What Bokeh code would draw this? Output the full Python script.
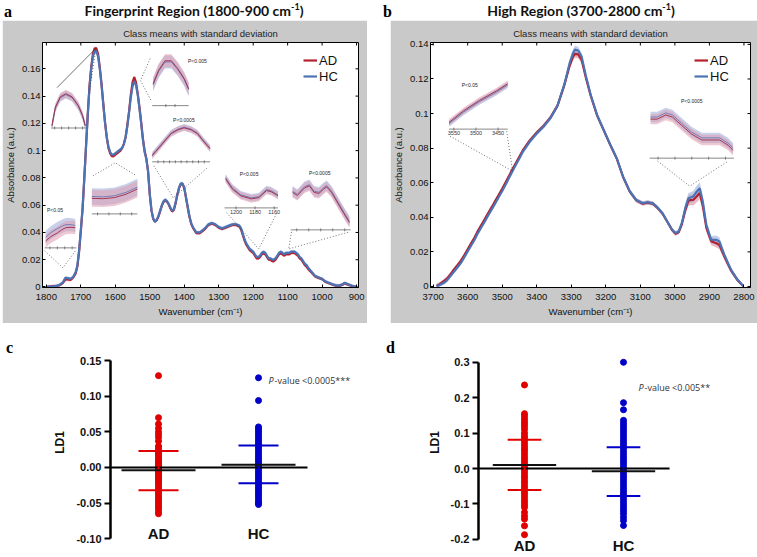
from bokeh.plotting import figure
from bokeh.models import (Range1d, FixedTicker, CustomJSTickFormatter,
                          PrintfTickFormatter, Legend, LegendItem, Div, Spacer)
from bokeh.layouts import row, column
from bokeh.embed import file_html
from bokeh.resources import INLINE
from bokeh.core.properties import value

# ---------------- data: panel a (fingerprint region) ----------------
wn_a = [1800, 1790, 1780, 1770, 1760, 1752, 1745, 1738, 1730, 1722, 1715, 1710, 1705, 1700,
        1695, 1690, 1685, 1680, 1675, 1670, 1665, 1660, 1655, 1650, 1645, 1640, 1635, 1630, 1625, 1620, 1615, 1610, 1605, 1600,
        1595, 1590, 1585, 1580, 1575, 1570, 1565, 1560, 1555, 1550, 1545, 1540, 1535, 1530, 1525, 1520, 1515, 1510, 1505, 1500, 1495, 1490, 1485, 1480,
        1475, 1470, 1465, 1460, 1455, 1450, 1445, 1440, 1435, 1430, 1425, 1420, 1415, 1410, 1405, 1400, 1395, 1390, 1385, 1380, 1375, 1370, 1365, 1360, 1355, 1350,
        1340, 1330, 1320, 1310, 1300, 1290, 1280, 1270, 1260, 1250, 1240,
        1235, 1230, 1225, 1220, 1215, 1210, 1200, 1195, 1190, 1185, 1180, 1175, 1170, 1165, 1160, 1155,
        1150, 1145, 1140, 1135, 1130, 1125, 1120, 1115, 1110, 1105, 1100, 1095, 1090, 1085, 1080, 1075, 1070, 1065, 1060, 1055,
        1050, 1045, 1040,
        1030, 1020, 1010, 1000, 990, 980, 970, 960, 950, 940, 935, 930, 920, 910, 900]
hc_a = [0.0, 0.0003, 0.0005, 0.0008, 0.0018, 0.0035, 0.0068, 0.0065, 0.0060, 0.0075, 0.0110, 0.0160, 0.0270, 0.0420,
        0.058, 0.080, 0.103, 0.126, 0.146, 0.160, 0.169, 0.173, 0.173, 0.169, 0.160, 0.148, 0.134, 0.121, 0.110, 0.103, 0.099, 0.097, 0.097, 0.098,
        0.099, 0.100, 0.101, 0.102, 0.105, 0.110, 0.118, 0.128, 0.139, 0.147, 0.151, 0.148, 0.141, 0.131, 0.120, 0.108, 0.099, 0.094, 0.085, 0.068, 0.056, 0.050, 0.048, 0.049,
        0.052, 0.056, 0.060, 0.063, 0.064, 0.063, 0.061, 0.058, 0.056, 0.057, 0.062, 0.068, 0.073, 0.076, 0.076, 0.073, 0.066, 0.059, 0.052, 0.047, 0.044, 0.042, 0.040, 0.040, 0.040, 0.041,
        0.043, 0.046, 0.047, 0.046, 0.044, 0.043, 0.044, 0.045, 0.046, 0.046, 0.045,
        0.043, 0.039, 0.035, 0.032, 0.030, 0.028, 0.026, 0.024, 0.022, 0.022, 0.023, 0.025, 0.026, 0.025, 0.023, 0.021,
        0.021, 0.020, 0.020, 0.021, 0.023, 0.025, 0.026, 0.025, 0.024, 0.025, 0.025, 0.025, 0.026, 0.026, 0.026, 0.025, 0.024, 0.022, 0.021, 0.019,
        0.017, 0.016, 0.014,
        0.011, 0.008, 0.007, 0.006, 0.004, 0.003, 0.002, 0.0012, 0.001, 0.002, 0.003, 0.0025, 0.0015, 0.0005, 0.0]
ad_a = [0.0, 0.0003, 0.0005, 0.0007, 0.0015, 0.0030, 0.0055, 0.0055, 0.0052, 0.0070, 0.0100, 0.0150, 0.0260, 0.0410,
        0.057, 0.079, 0.103, 0.126, 0.147, 0.161, 0.171, 0.175, 0.175, 0.171, 0.161, 0.149, 0.135, 0.121, 0.110, 0.102, 0.098, 0.096, 0.096, 0.097,
        0.098, 0.099, 0.100, 0.102, 0.105, 0.110, 0.119, 0.129, 0.141, 0.150, 0.154, 0.150, 0.142, 0.132, 0.121, 0.109, 0.100, 0.094, 0.085, 0.068, 0.056, 0.050, 0.048, 0.049,
        0.0515, 0.0555, 0.0595, 0.0625, 0.0635, 0.0625, 0.0605, 0.0575, 0.0555, 0.0565, 0.0615, 0.0675, 0.0725, 0.0755, 0.0755, 0.0725, 0.0655, 0.0585, 0.0515, 0.0465, 0.0435, 0.0415, 0.0395, 0.0395, 0.0395, 0.0405,
        0.0425, 0.0455, 0.0465, 0.0455, 0.0435, 0.0425, 0.0435, 0.0445, 0.0455, 0.0455, 0.0443,
        0.042, 0.038, 0.034, 0.031, 0.029, 0.027, 0.025, 0.023, 0.021, 0.021, 0.022, 0.024, 0.025, 0.024, 0.022, 0.020,
        0.020, 0.019, 0.019, 0.020, 0.022, 0.024, 0.025, 0.024, 0.023, 0.024, 0.024, 0.024, 0.025, 0.025, 0.025, 0.024, 0.023, 0.021, 0.020, 0.018,
        0.016, 0.015, 0.013,
        0.0105, 0.0077, 0.0067, 0.0057, 0.0038, 0.0028, 0.0018, 0.001, 0.0008, 0.0018, 0.0028, 0.0023, 0.0013, 0.0004, 0.0]
sd_ad_a = 0.0012
sd_hc_a = 0.0012
xticks_a = [1800, 1700, 1600, 1500, 1400, 1300, 1200, 1100, 1000, 900]
yticks_a = [0, 0.02, 0.04, 0.06, 0.08, 0.1, 0.12, 0.14, 0.16]

# ---------------- data: panel b (high region) ----------------
wn_b = [3690, 3680, 3670, 3660, 3650, 3640, 3630, 3620, 3610, 3600, 3590, 3580, 3570, 3560, 3550, 3540, 3530, 3520, 3510, 3500,
        3490, 3480, 3470, 3460, 3450, 3440, 3420, 3400, 3380, 3360, 3340, 3320,
        3305, 3295, 3289, 3280, 3270, 3258, 3244, 3225, 3206, 3187, 3168, 3150, 3131, 3112, 3093, 3079, 3064, 3050, 3036, 3022,
        3008, 2998, 2989, 2980, 2970, 2961, 2954, 2947, 2937, 2928, 2919, 2909, 2895, 2880, 2871, 2857, 2838, 2819, 2802]
hc_b = [0.0002, 0.001, 0.002, 0.0035, 0.006, 0.0085, 0.011, 0.0135, 0.0168, 0.0203, 0.0237, 0.027, 0.031, 0.0344, 0.0378, 0.0413, 0.0447, 0.0482, 0.0517, 0.0552,
        0.059, 0.0629, 0.0668, 0.0705, 0.0742, 0.078, 0.0838, 0.0885, 0.0925, 0.0975, 0.1045, 0.1170,
        0.1290, 0.1350, 0.1370, 0.1365, 0.1330, 0.1220, 0.1110, 0.0990, 0.0905, 0.0820, 0.0740, 0.0635, 0.0552, 0.0500, 0.0481, 0.0487, 0.0481, 0.0456, 0.0424, 0.0376,
        0.0328, 0.0309, 0.0318, 0.0366, 0.0453, 0.0510, 0.0515, 0.0520, 0.0548, 0.0568, 0.0490, 0.0357, 0.0270, 0.0270, 0.0260, 0.0184, 0.0098, 0.0040, 0.0002]
ad_b = [0.0003, 0.0015, 0.003, 0.0045, 0.007, 0.0097, 0.0122, 0.0148, 0.018, 0.0215, 0.025, 0.0283, 0.0323, 0.0357, 0.0391, 0.0426, 0.046, 0.0495, 0.053, 0.0565,
        0.0602, 0.064, 0.0679, 0.0715, 0.0752, 0.0788, 0.0845, 0.089, 0.093, 0.0978, 0.1045, 0.1165,
        0.1275, 0.1330, 0.1345, 0.1342, 0.1310, 0.1210, 0.1105, 0.0988, 0.0903, 0.0818, 0.0738, 0.0633, 0.0550, 0.0498, 0.0479, 0.0485, 0.0479, 0.0454, 0.0422, 0.0374,
        0.0326, 0.0305, 0.0313, 0.0358, 0.0440, 0.0495, 0.0500, 0.0500, 0.0520, 0.0540, 0.0465, 0.0340, 0.0262, 0.0250, 0.0240, 0.0175, 0.0095, 0.0038, 0.0002]
sd_b = [0.0012, 0.0012, 0.0012, 0.0012, 0.0012, 0.0012, 0.0012, 0.0012, 0.0012, 0.0012, 0.0012, 0.0012, 0.0012, 0.0012, 0.0012, 0.0012, 0.0012, 0.0012, 0.0012, 0.0012,
        0.0012, 0.0012, 0.0012, 0.0012, 0.0012, 0.0012, 0.0012, 0.0012, 0.0013, 0.0014, 0.0016, 0.0018,
        0.0020, 0.0022, 0.0022, 0.0022, 0.0020, 0.0018, 0.0015, 0.0013, 0.0012, 0.0012, 0.0012, 0.0012, 0.0012, 0.0012, 0.0012, 0.0012, 0.0012, 0.0012, 0.0012, 0.0012,
        0.0012, 0.0012, 0.0013, 0.0016, 0.0025, 0.0030, 0.0030, 0.0032, 0.0035, 0.0035, 0.0030, 0.0025, 0.0022, 0.0025, 0.0025, 0.0020, 0.0015, 0.0012, 0.0008]
xticks_b = [3700, 3600, 3500, 3400, 3300, 3200, 3100, 3000, 2900, 2800]
yticks_b = [0, 0.02, 0.04, 0.06, 0.08, 0.1, 0.12, 0.14]

# ---------------- inset data (zoomed views) ----------------
ins_a1_wn = [1679, 1674, 1667, 1659, 1650, 1641, 1635, 1631]
ins_a1_ad = [0.1518, 0.1659, 0.1737, 0.1761, 0.1737, 0.1671, 0.1596, 0.1518]
ins_a1_hc = [0.1512, 0.1652, 0.1730, 0.1754, 0.1731, 0.1666, 0.1591, 0.1514]
ins_a2_wn = [1564, 1558, 1551, 1544, 1537, 1530, 1525]
ins_a2_ad = [0.1418, 0.1490, 0.1541, 0.1541, 0.1499, 0.1446, 0.1390]
ins_a2_hc = [0.1412, 0.1484, 0.1534, 0.1535, 0.1494, 0.1441, 0.1386]
ins_a3_wn = [1480, 1468, 1458, 1447, 1435, 1425, 1413, 1402, 1392, 1380]
ins_a3_ad = [0.0548, 0.0611, 0.0665, 0.0722, 0.0752, 0.0767, 0.0752, 0.0722, 0.0665, 0.0602]
ins_a3_hc = [0.0553, 0.0616, 0.0670, 0.0727, 0.0757, 0.0772, 0.0757, 0.0727, 0.0670, 0.0607]
ins_a4_wn = [1620, 1610, 1600, 1590, 1580]
ins_a4_ad = [0.0984, 0.0982, 0.0988, 0.1006, 0.1034]
ins_a4_hc = [0.0994, 0.0992, 0.0998, 0.1016, 0.1044]
ins_a5_wn = [1759, 1754, 1748, 1744, 1740, 1735, 1731]
ins_a5_ad = [0.0036, 0.0046, 0.0054, 0.0061, 0.0066, 0.0067, 0.0066]
ins_a5_hc = [0.0044, 0.0055, 0.0064, 0.0069, 0.0073, 0.0073, 0.0071]
ins_a6_wn = [1211, 1204, 1195, 1184, 1176, 1168, 1163, 1156]
ins_a6_ad = [0.0296, 0.0256, 0.0228, 0.0216, 0.0221, 0.0249, 0.0244, 0.0228]
ins_a6_hc = [0.0300, 0.0260, 0.0232, 0.0220, 0.0225, 0.0253, 0.0248, 0.0232]
ins_a7_wn = [1127, 1119, 1107, 1099, 1091, 1083, 1075, 1070, 1062, 1051, 1041, 1032]
ins_a7_ad = [0.0283, 0.0268, 0.0305, 0.0315, 0.0283, 0.0278, 0.0300, 0.0310, 0.0283, 0.0228, 0.0178, 0.0135]
ins_a7_hc = [0.0289, 0.0274, 0.0311, 0.0321, 0.0289, 0.0284, 0.0306, 0.0316, 0.0289, 0.0234, 0.0184, 0.0141]
ins_b1_wn = [3561, 3528, 3492, 3454, 3428]
ins_b1_ad = [0.0384, 0.0496, 0.0596, 0.0686, 0.0756]
ins_b1_hc = [0.0372, 0.0484, 0.0584, 0.0674, 0.0744]
ins_b2_wn = [2999, 2991, 2981, 2973, 2962, 2950, 2938, 2927, 2917, 2907, 2901]
ins_b2_ad = [0.0550, 0.0550, 0.0566, 0.0558, 0.0526, 0.0492, 0.0470, 0.0470, 0.0470, 0.0450, 0.0430]
ins_b2_hc = [0.0558, 0.0558, 0.0574, 0.0566, 0.0534, 0.0500, 0.0478, 0.0478, 0.0478, 0.0458, 0.0438]

# ---------------- data: panels c, d (LD1 scores) ----------------
cats = ["AD", "HC"]
ld1_c_ad = [0.129, 0.070, 0.061, 0.055, 0.050, 0.046, 0.042, 0.037, 0.030, 0.028, 0.025, 0.022, 0.019, 0.016,
            0.013, 0.010, 0.008, 0.006, 0.004, 0.002, 0.0, -0.002, -0.004, -0.006, -0.008, -0.010, -0.012,
            -0.014, -0.016, -0.018, -0.020, -0.023, -0.026, -0.029, -0.032, -0.035, -0.038, -0.041, -0.044,
            -0.047, -0.050, -0.053, -0.056, -0.058, -0.062, -0.065]
ld1_c_hc = [0.126, 0.094, 0.057, 0.054, 0.051, 0.048, 0.045, 0.042, 0.039, 0.036, 0.033, 0.030, 0.027, 0.024,
            0.021, 0.018, 0.015, 0.012, 0.009, 0.006, 0.003, 0.0, -0.003, -0.006, -0.009, -0.012, -0.015,
            -0.018, -0.021, -0.024, -0.027, -0.030, -0.033, -0.036, -0.039, -0.042, -0.045, -0.048, -0.050, -0.052]
mean_c = [-0.004, 0.004]
sd_hi_c = [0.023, 0.031]
sd_lo_c = [-0.032, -0.022]
ticks_c = [-0.10, -0.05, 0.0, 0.05, 0.10, 0.15]

ld1_d_ad = [0.236, 0.155, 0.148, 0.140, 0.132, 0.125, 0.118, 0.110, 0.100, 0.092, 0.085, 0.078, 0.070, 0.062,
            0.055, 0.048, 0.040, 0.032, 0.025, 0.018, 0.010, 0.003, -0.005, -0.012, -0.020, -0.027, -0.035,
            -0.042, -0.050, -0.057, -0.065, -0.072, -0.080, -0.088, -0.095, -0.103, -0.110, -0.124, -0.134,
            -0.143, -0.162, -0.187]
ld1_d_hc = [0.300, 0.186, 0.166, 0.136, 0.128, 0.120, 0.112, 0.104, 0.096, 0.088, 0.080, 0.072, 0.064, 0.056,
            0.048, 0.040, 0.032, 0.024, 0.016, 0.008, 0.0, -0.008, -0.016, -0.024, -0.032, -0.040, -0.048,
            -0.056, -0.064, -0.072, -0.080, -0.088, -0.096, -0.104, -0.112, -0.120, -0.128, -0.138, -0.147, -0.161]
mean_d = [0.010, -0.008]
sd_hi_d = [0.081, 0.060]
sd_lo_d = [-0.061, -0.078]
ticks_d = [-0.2, -0.1, 0.0, 0.1, 0.2, 0.3]

# ---------------- styling ----------------
NARROW = "'Liberation Sans Narrow', 'Liberation Sans', Arial, sans-serif"
ARIAL = "'Liberation Sans', Arial, sans-serif"
AD_RED = "#b3202e"
HC_BLUE = "#4c73b4"
AD_BAND = "#d98a9c"
HC_BAND = "#8fa8d8"
GREY = "#c9c9c9"
DOT = "1 2"


def draw_inset(p, spec):
    wx0, wx1 = spec["win_x"]
    wy0, wy1 = spec["win_y"]
    bx0, bx1, by0, by1 = spec["box"]

    def fx(w):
        return bx0 + (w - wx0) / (wx1 - wx0) * (bx1 - bx0)

    def fy(v):
        return by0 + (v - wy0) / (wy1 - wy0) * (by1 - by0)

    xs = [fx(w) for w in spec["wn"]]
    sd = spec["sd"]
    p.varea(x=xs, y1=[fy(v - sd) for v in spec["hc"]], y2=[fy(v + sd) for v in spec["hc"]],
            fill_color="#a3b2dc", fill_alpha=0.6)
    p.varea(x=xs, y1=[fy(v - sd) for v in spec["ad"]], y2=[fy(v + sd) for v in spec["ad"]],
            fill_color="#dc9caf", fill_alpha=0.55)
    p.line(xs, [fy(v) for v in spec["hc"]], line_color="#5d70b0", line_width=0.8)
    p.line(xs, [fy(v) for v in spec["ad"]], line_color="#9c2848", line_width=0.9)
    p.line([bx0, bx1], [by0, by0], line_color="#555555", line_width=0.7)
    tx = [fx(t) for t in spec["ticks"]]
    p.scatter(tx, [by0] * len(tx), marker="dash", angle=1.5708, size=3,
              line_color="#555555", line_width=0.7)
    if spec.get("labels"):
        p.text(tx, [by0] * len(tx), text=[str(t) for t in spec["ticks"]], text_font=value(ARIAL),
               text_font_size="5.5px", text_align="center", text_baseline="top", y_offset=2,
               text_color="#333333")
    for pts, dash in spec["conn"]:
        p.line([q[0] for q in pts], [q[1] for q in pts], line_color="#333333",
               line_width=0.7, line_dash=dash)
    if spec.get("ptext"):
        t, x, y = spec["ptext"]
        p.text([x], [y], text=[t], text_font=value(ARIAL), text_font_size="5px",
               text_align="center", text_baseline="middle", text_color="#222222")


def spectrum_figure(width, xr, yr, xticks, yticks, left_border, right_border):
    p = figure(width=width, height=303, x_range=Range1d(*xr), y_range=Range1d(*yr),
               output_backend="svg", toolbar_location=None,
               min_border_left=left_border, min_border_right=right_border,
               min_border_top=22, min_border_bottom=36,
               border_fill_color=GREY, background_fill_color="white",
               outline_line_color="black", outline_line_width=1,
               title="Class means with standard deviation")
    p.title.align = "center"
    p.title.vertical_align = "top"
    p.title.text_font = NARROW
    p.title.text_font_size = "9.5px"
    p.title.text_font_style = "normal"
    p.title.text_color = "#222222"
    p.title.standoff = 4
    p.grid.visible = False
    p.xaxis.ticker = FixedTicker(ticks=xticks)
    p.yaxis.ticker = FixedTicker(ticks=yticks)
    p.yaxis.formatter = CustomJSTickFormatter(code="return String(Number(tick.toFixed(3)));")
    p.xaxis.axis_label = "Wavenumber (cm\u207b\u00b9)"
    p.yaxis.axis_label = "Absorbance (a.u.)"
    for ax in [p.xaxis[0], p.yaxis[0]]:
        ax.major_tick_in = 3
        ax.major_tick_out = 0
        ax.minor_tick_in = 0
        ax.minor_tick_out = 0
        ax.major_label_text_font = NARROW
        ax.major_label_text_font_size = "9.5px"
        ax.major_label_text_color = "#111111"
        ax.axis_label_text_font = NARROW
        ax.axis_label_text_font_size = "9.5px"
        ax.axis_label_text_font_style = "normal"
        ax.axis_label_text_color = "#111111"
        ax.axis_line_color = "black"
    p.xaxis[0].major_label_standoff = 6
    p.xaxis[0].axis_label_standoff = 3
    p.yaxis[0].major_label_standoff = 2
    p.yaxis[0].axis_label_standoff = 3
    # inward tick marks on the top and right frame edges (MATLAB box style)
    p.scatter(xticks, [yr[1]] * len(xticks), marker="dash", angle=1.5708, size=6,
              line_color="black", line_width=1)
    p.scatter([xr[1]] * len(yticks), yticks, marker="dash", size=6,
              line_color="black", line_width=1)
    return p


def draw_spectra(p, wn, ad, hc, sd_ad, sd_hc, legend_xy):
    p.varea(x=wn, y1=[a - s for a, s in zip(ad, sd_ad)], y2=[a + s for a, s in zip(ad, sd_ad)],
            fill_color=AD_BAND, fill_alpha=0.6)
    p.varea(x=wn, y1=[h - s for h, s in zip(hc, sd_hc)], y2=[h + s for h, s in zip(hc, sd_hc)],
            fill_color=HC_BAND, fill_alpha=0.55)
    r_ad = p.line(wn, ad, line_color=AD_RED, line_width=2.2)
    r_hc = p.line(wn, hc, line_color=HC_BLUE, line_width=2.2)
    leg = Legend(items=[LegendItem(label="AD", renderers=[r_ad]), LegendItem(label="HC", renderers=[r_hc])],
                 location=legend_xy, padding=0, margin=0, spacing=0, label_height=16,
                 glyph_height=16, glyph_width=14, label_standoff=2,
                 label_text_font=ARIAL, label_text_font_size="13px", label_text_color="#111111",
                 border_line_color=None, background_fill_alpha=0)
    p.add_layout(leg)


# ---------------- panel a ----------------
xr_a = (1811.25, 894.4)
yr_a = (-0.00037, 0.1793)
pa = spectrum_figure(365, xr_a, yr_a, xticks_a, yticks_a, 30, 9)
draw_spectra(pa, wn_a, ad_a, hc_a, [sd_ad_a] * len(wn_a), [sd_hc_a] * len(wn_a), (261, 203))

insets_a = [
    dict(wn=ins_a1_wn, ad=ins_a1_ad, hc=ins_a1_hc, sd=0.003, win_x=(1680, 1630), win_y=(0.150, 0.180),
         box=(1786, 1685, 0.1166, 0.1455), ticks=[1675, 1665, 1655, 1645, 1635],
         conn=[([(1769, 0.1462), (1654, 0.1756)], "solid"), ([(1676, 0.1425), (1657, 0.1734)], DOT)]),
    dict(wn=ins_a2_wn, ad=ins_a2_ad, hc=ins_a2_hc, sd=0.0035, win_x=(1565, 1525), win_y=(0.130, 0.158),
         box=(1493, 1387, 0.1330, 0.1712), ticks=[1550, 1540],
         conn=[([(1499, 0.1675), (1527, 0.1514), (1496, 0.1367)], DOT)],
         ptext=("P<0.005", 1362, 0.166)),
    dict(wn=ins_a3_wn, ad=ins_a3_ad, hc=ins_a3_hc, sd=0.0025, win_x=(1480, 1380), win_y=(0.050, 0.080),
         box=(1493, 1325, 0.0918, 0.1198), ticks=[1470, 1460, 1450, 1440, 1430, 1420, 1410, 1400, 1390],
         conn=[([(1488, 0.0889), (1432, 0.0654), (1333, 0.0874)], DOT)],
         ptext=("P<0.0005", 1401, 0.1225)),
    dict(wn=ins_a4_wn, ad=ins_a4_ad, hc=ins_a4_hc, sd=0.0045, win_x=(1620, 1580), win_y=(0.090, 0.110),
         box=(1668, 1536, 0.0536, 0.0808), ticks=[1615, 1605, 1595, 1585],
         conn=[([(1665, 0.0815), (1600, 0.0911), (1538, 0.0815)], DOT)]),
    dict(wn=ins_a5_wn, ad=ins_a5_ad, hc=ins_a5_hc, sd=0.0015, win_x=(1760, 1730), win_y=(0.002, 0.010),
         box=(1805, 1713, 0.0287, 0.0544), ticks=[1755, 1748, 1741, 1734],
         conn=[([(1805, 0.0265), (1752, 0.0140), (1716, 0.0265)], DOT)],
         ptext=("P<0.05", 1775, 0.0565)),
    dict(wn=ins_a6_wn, ad=ins_a6_ad, hc=ins_a6_hc, sd=0.0015, win_x=(1212, 1156), win_y=(0.018, 0.032),
         box=(1283, 1128, 0.0580, 0.0838), ticks=[1200, 1180, 1160], labels=True,
         conn=[([(1277, 0.0545), (1184, 0.0279), (1131, 0.0545)], DOT)],
         ptext=("P<0.005", 1212, 0.0825)),
    dict(wn=ins_a7_wn, ad=ins_a7_ad, hc=ins_a7_hc, sd=0.0025, win_x=(1130, 1030), win_y=(0.010, 0.035),
         box=(1091, 917, 0.0419, 0.0794), ticks=[1120, 1100, 1080, 1060, 1040],
         conn=[([(1089, 0.0404), (1097, 0.0279), (920, 0.0404)], DOT)],
         ptext=("P<0.0005", 1007, 0.0835)),
]
for spec in insets_a:
    draw_inset(pa, spec)

# ---------------- panel b ----------------
xr_b = (3707.65, 2781.0)
yr_b = (-0.0006, 0.1411)
pb = spectrum_figure(367, xr_b, yr_b, xticks_b, yticks_b, 33, 7)
draw_spectra(pb, wn_b, ad_b, hc_b, sd_b, sd_b, (264, 203))
insets_b = [
    dict(wn=ins_b1_wn, ad=ins_b1_ad, hc=ins_b1_hc, sd=0.003, win_x=(3561, 3428), win_y=(0.032, 0.080),
         box=(3654, 3484, 0.0910, 0.1199), ticks=[3550, 3500, 3450], labels=True,
         conn=[([(3651, 0.0869), (3470, 0.0667)], DOT), ([(3487, 0.0898), (3470, 0.0667)], DOT)],
         ptext=("P<0.05", 3594, 0.1164)),
    dict(wn=ins_b2_wn, ad=ins_b2_ad, hc=ins_b2_hc, sd=0.002, win_x=(3000, 2900), win_y=(0.040, 0.060),
         box=(3073, 2829, 0.0742, 0.1043), ticks=[2990, 2970, 2950, 2930, 2910],
         conn=[([(3050, 0.0725), (2957, 0.0580), (2846, 0.0725)], DOT)],
         ptext=("P<0.0005", 2951, 0.1072)),
]
for spec in insets_b:
    draw_inset(pb, spec)


# ---------------- panels c, d ----------------
def ld_panel(width, border_left, xr, yr, ticks, fmt, bounds, groups, means, sd_hi, sd_lo,
             half_mean, half_sd, zero_end, label_y, p_pos, p_rest):
    p = figure(width=width, height=233, x_range=Range1d(*xr), y_range=Range1d(*yr),
               output_backend="svg", toolbar_location=None,
               min_border_left=border_left, min_border_right=10, min_border_top=5, min_border_bottom=0,
               outline_line_color=None, background_fill_color="white", border_fill_color="white")
    p.xaxis.visible = False
    p.grid.visible = False
    ya = p.yaxis[0]
    ya.ticker = FixedTicker(ticks=ticks)
    ya.formatter = PrintfTickFormatter(format=fmt)
    ya.bounds = bounds
    ya.axis_line_width = 2.5
    ya.axis_line_color = "black"
    ya.major_tick_line_width = 2
    ya.major_tick_out = 6
    ya.major_tick_in = 0
    ya.minor_tick_in = 0
    ya.minor_tick_out = 0
    ya.major_label_text_font = ARIAL
    ya.major_label_text_font_style = "bold"
    ya.major_label_text_font_size = "11px"
    ya.major_label_text_color = "#111111"
    ya.major_label_standoff = 3
    ya.axis_label = "LD1"
    ya.axis_label_text_font = ARIAL
    ya.axis_label_text_font_style = "bold"
    ya.axis_label_text_font_size = "12px"
    ya.axis_label_text_color = "#111111"
    ya.axis_label_standoff = 6
    colors = ["#e00000", "#0000c8"]
    for i, vals in enumerate(groups):
        xc = i + 1
        p.scatter([xc] * len(vals), vals, size=6, fill_color=colors[i], line_color=colors[i])
    p.segment(x0=[xr[0]], y0=[0], x1=[zero_end], y1=[0], line_color="black", line_width=2)
    for i in range(len(groups)):
        xc = i + 1
        p.segment(x0=[xc], y0=[sd_lo[i]], x1=[xc], y1=[sd_hi[i]], line_color=colors[i], line_width=2)
        p.segment(x0=[xc - half_sd] * 2, y0=[sd_hi[i], sd_lo[i]], x1=[xc + half_sd] * 2,
                  y1=[sd_hi[i], sd_lo[i]], line_color=colors[i], line_width=2)
        p.segment(x0=[xc - half_mean], y0=[means[i]], x1=[xc + half_mean], y1=[means[i]],
                  line_color="#111111", line_width=2)
    p.text(x=[1, 2], y=[label_y, label_y], text=cats, text_font=value(ARIAL), text_font_style="bold",
           text_font_size="15px", text_align="center", text_baseline="middle", text_color="#111111")
    p.text(x=[p_pos[0]], y=[p_pos[1]], text=["P"], text_font=value("Open Sans"), text_font_style="italic",
           text_font_size="9px", text_align="left", text_baseline="middle", text_color="#333333")
    p.text(x=[p_pos[0]], y=[p_pos[1]], text=[p_rest], text_font=value("Open Sans"), x_offset=6,
           text_font_size="9px", text_align="left", text_baseline="middle", text_color="#333333")
    return p


pc = ld_panel(350, 80, (0.52, 3.12), (-0.125, 0.1952), ticks_c, "%.2f", (-0.10, 0.15),
              [ld1_c_ad, ld1_c_hc], mean_c, sd_hi_c, sd_lo_c, 0.37, 0.20, 2.49, -0.0927,
              (2.10, 0.1222), "-value <0.0005***")
pd_ = ld_panel(357, 78, (0.5354, 3.2525), (-0.2486, 0.3955), ticks_d, "%.1f", (-0.2, 0.3),
               [ld1_d_ad, ld1_d_hc], mean_d, sd_hi_d, sd_lo_d, 0.32, 0.17, 2.465, -0.2175,
               (2.152, 0.2288), "-value <0.005**")


# ---------------- titles / letters ----------------
def title_div(letter, letter_left, title_html, width, center):
    html = ('<div style="position:relative;width:%dpx;height:20px;">'
            '<span style="position:absolute;left:%dpx;top:4px;font-family:\'Liberation Serif\',serif;'
            'font-weight:bold;font-size:16px;line-height:16px;">%s</span>'
            '<span style="position:absolute;left:%dpx;top:4px;transform:translateX(-50%%);white-space:nowrap;'
            'font-family:Lato,sans-serif;font-weight:bold;font-size:14px;line-height:14px;color:#111;">%s</span>'
            '</div>') % (width, letter_left, letter, center, title_html)
    return Div(text=html, width=width, height=20, margin=0)


def letter_div(letter, width, left, top):
    html = ('<div style="position:relative;width:%dpx;height:233px;">'
            '<span style="position:absolute;left:%dpx;top:%dpx;font-family:\'Liberation Serif\',serif;'
            'font-weight:bold;font-size:16px;line-height:16px;">%s</span></div>') % (width, left, top, letter)
    return Div(text=html, width=width, height=233, margin=0)


SUP = "<sup style=\"font-size:9px;line-height:0\">-1</sup>"
div_a = title_div("a", 2, "Fingerprint Region (1800-900 cm" + SUP + ")", 365, 192)
div_b = title_div("b", -7, "High Region (3700-2800 cm" + SUP + ")", 367, 191)

top_row = row(Spacer(width=2, height=10, margin=0), column(div_a, pa, spacing=0),
              Spacer(width=23, height=10, margin=0), column(div_b, pb, spacing=0), spacing=0)
bottom_row = row(letter_div("c", 30, 6, 17), pc, letter_div("d", 20, 6, 17), pd_, spacing=0)
layout = column(top_row, bottom_row, spacing=0)

open("out.html", "w").write(file_html(layout, INLINE))
